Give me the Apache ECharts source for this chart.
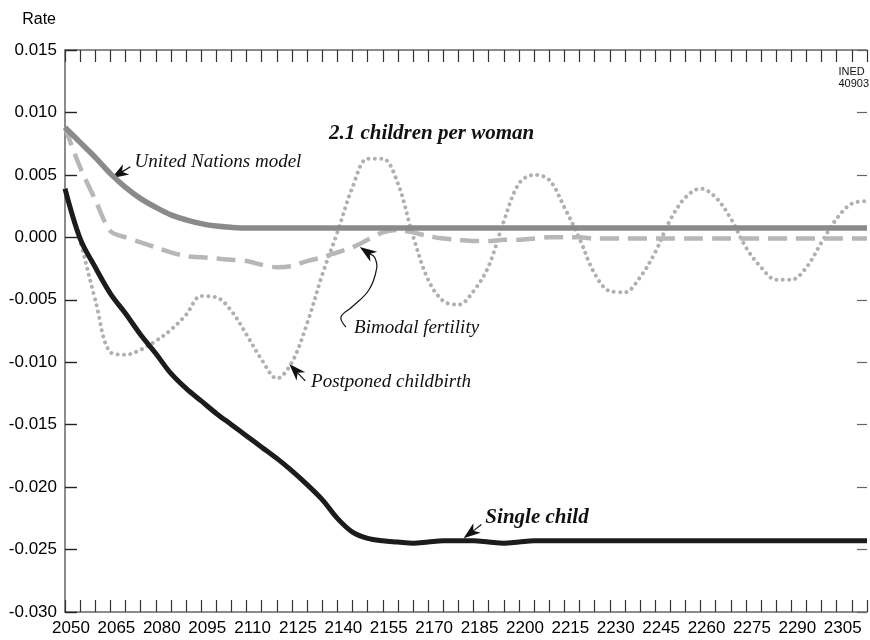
<!DOCTYPE html>
<html>
<head>
<meta charset="utf-8">
<script src="https://cdn.jsdelivr.net/npm/echarts@6/dist/echarts.min.js"></script>
<style>
  html, body { margin: 0; padding: 0; background: #fff; }
  #chart { width: 870px; height: 640px; }
</style>
</head>
<body>
<div id="chart"></div>
<script>
// Projection years (5-year steps)
const years = [
  2050, 2055, 2060, 2065, 2070, 2075, 2080, 2085, 2090, 2095,
  2100, 2105, 2110, 2115, 2120, 2125, 2130, 2135, 2140, 2145,
  2150, 2155, 2160, 2165, 2170, 2175, 2180, 2185, 2190, 2195,
  2200, 2205, 2210, 2215, 2220, 2225, 2230, 2235, 2240, 2245,
  2250, 2255, 2260, 2265, 2270, 2275, 2280, 2285, 2290, 2295,
  2300, 2305, 2310, 2315
];

// Growth rate, United Nations model
const unitedNations = [
  0.0088, 0.0076, 0.0064, 0.0051, 0.0040, 0.0031, 0.0024, 0.0018, 0.0014, 0.0011,
  0.0009, 0.0008, 0.00075, 0.00075, 0.00075, 0.00075, 0.00075, 0.00075, 0.00075, 0.00075,
  0.00075, 0.00075, 0.00075, 0.00075, 0.00075, 0.00075, 0.00075, 0.00075, 0.00075, 0.00075,
  0.00075, 0.00075, 0.00075, 0.00075, 0.00075, 0.00075, 0.00075, 0.00075, 0.00075, 0.00075,
  0.00075, 0.00075, 0.00075, 0.00075, 0.00075, 0.00075, 0.00075, 0.00075, 0.00075, 0.00075,
  0.00075, 0.00075, 0.00075, 0.00075
];

// Growth rate, bimodal fertility schedule
const bimodal = [
  0.0088, 0.0056, 0.0030, 0.0005, 0.0000, -0.0004, -0.0008, -0.0012, -0.0015, -0.0016,
  -0.0017, -0.0018, -0.0019, -0.0022, -0.0024, -0.0023, -0.0019, -0.0016, -0.0012, -0.0008,
  -0.0002, 0.0004, 0.0006, 0.0004, 0.0001, -0.0001, -0.0002, -0.0003, -0.0003, -0.0002,
  -0.0002, -0.0001, 0.0000, 0.0000, 0.0000, -0.0001, -0.0001, -0.0001, -0.0001, -0.0001,
  -0.0001, -0.0001, -0.0001, -0.0001, -0.0001, -0.0001, -0.0001, -0.0001, -0.0001, -0.0001,
  -0.0001, -0.0001, -0.0001, -0.0001
];

// Growth rate, postponed childbirth
const postponed = [
  0.0038, -0.0003, -0.0050, -0.0092, -0.0094, -0.0090, -0.0083, -0.0074, -0.0062, -0.0047,
  -0.0048, -0.0059, -0.0078, -0.0098, -0.0113, -0.0100, -0.0069, -0.0030, 0.0004, 0.0040,
  0.0063, 0.0063, 0.0043, 0.0001, -0.0034, -0.0051, -0.0054, -0.0043, -0.0023, 0.0013,
  0.0043, 0.0050, 0.0046, 0.0024, -0.0001, -0.0029, -0.0043, -0.0044, -0.0032, -0.0012,
  0.0014, 0.0032, 0.0039, 0.0032, 0.0015, -0.0008, -0.0024, -0.0034, -0.0034, -0.0024,
  -0.0004, 0.0015, 0.0027, 0.0029
];

// Growth rate, single child
const singleChild = [
  0.0039, -0.0001, -0.0024, -0.0045, -0.0061, -0.0078, -0.0093, -0.0109, -0.0121, -0.0131,
  -0.0141, -0.0150, -0.0159, -0.0168, -0.0177, -0.0187, -0.0198, -0.0210, -0.0225, -0.0236,
  -0.0241, -0.0243, -0.0244, -0.0245, -0.0244, -0.0243, -0.0243, -0.0243, -0.0244, -0.0245,
  -0.0244, -0.0243, -0.0243, -0.0243, -0.0243, -0.0243, -0.0243, -0.0243, -0.0243, -0.0243,
  -0.0243, -0.0243, -0.0243, -0.0243, -0.0243, -0.0243, -0.0243, -0.0243, -0.0243, -0.0243,
  -0.0243, -0.0243, -0.0243, -0.0243
];

const pairs = vals => years.map((y, i) => [y, vals[i]]);

const SANS = '"Liberation Sans", Arial, Helvetica, sans-serif';
const SERIF = '"Liberation Serif", "Times New Roman", serif';

const xCommon = {
  type: 'value', min: 2050, max: 2315, interval: 5,
  splitLine: { show: false },
  axisLine: { show: true, onZero: false, lineStyle: { color: '#666', width: 1.5 } },
  axisTick: { show: true, inside: true, length: 12, lineStyle: { color: '#333', width: 1.2 } }
};
const yCommon = {
  type: 'value', min: -0.030, max: 0.015, interval: 0.005,
  splitLine: { show: false }
};

const chart = echarts.init(document.getElementById('chart'), null, { renderer: 'canvas' });

chart.setOption({
  animation: false,
  backgroundColor: '#fff',
  grid: { left: 65, right: 0, top: 50, bottom: 28 },
  xAxis: [
    Object.assign({}, xCommon, {
      position: 'bottom',
      axisLabel: {
        color: '#000', fontFamily: SANS, fontSize: 17, margin: 8,
        padding: [0, 0, 0, 12],
        formatter: v => ((v - 2050) % 15 === 0 ? String(v) : '')
      }
    }),
    Object.assign({}, xCommon, {
      position: 'top',
      axisLabel: { show: false }
    })
  ],
  yAxis: [
    Object.assign({}, yCommon, {
      position: 'left',
      name: 'Rate',
      nameLocation: 'end',
      nameGap: 22,
      nameTextStyle: { color: '#000', fontFamily: SANS, fontSize: 16, align: 'right', padding: [0, 9, 0, 0] },
      axisLine: { show: true, onZero: false, lineStyle: { color: '#666', width: 1.5 } },
      axisTick: { show: true, inside: true, length: 12, lineStyle: { color: '#222', width: 1.4 } },
      axisLabel: { color: '#000', fontFamily: SANS, fontSize: 17, margin: 8, formatter: v => v.toFixed(3) }
    }),
    Object.assign({}, yCommon, {
      position: 'right',
      axisLine: { show: false, onZero: false },
      axisTick: { show: true, inside: true, length: 10, lineStyle: { color: '#666', width: 1.2 } },
      axisLabel: { show: false }
    })
  ],
  series: [
    {
      name: 'Postponed childbirth', type: 'line', data: pairs(postponed),
      smooth: 0.35, showSymbol: false,
      lineStyle: { color: '#b0b0b0', width: 4, type: [0.01, 6.3], cap: 'round' }
    },
    {
      name: 'Bimodal fertility', type: 'line', data: pairs(bimodal),
      smooth: 0.3, showSymbol: false,
      lineStyle: { color: '#b7b7b7', width: 4.5, type: [19, 9] }
    },
    {
      name: 'United Nations model', type: 'line', data: pairs(unitedNations),
      smooth: 0.35, showSymbol: false,
      lineStyle: { color: '#8a8a8a', width: 5.5 }
    },
    {
      name: 'Single child', type: 'line', data: pairs(singleChild),
      smooth: 0.35, showSymbol: false,
      lineStyle: { color: '#1c1c1c', width: 5 }
    }
  ]
});

// Annotations placed in data coordinates (year, rate)
const toPx = p => chart.convertToPixel({ xAxisIndex: 0, yAxisIndex: 0 }, p);

const labels = [
  { text: '2.1 children per woman', at: [2137.2, 0.00827], font: 'bold italic 21px ' + SERIF },
  { text: 'United Nations model', at: [2073.0, 0.0060], font: 'italic 19px ' + SERIF },
  { text: 'Bimodal fertility', at: [2145.5, -0.00722], font: 'italic 19px ' + SERIF },
  { text: 'Postponed childbirth', at: [2131.3, -0.01162], font: 'italic 19px ' + SERIF },
  { text: 'Single child', at: [2188.9, -0.02247], font: 'bold italic 21px ' + SERIF }
];

// Leader lines: list of points, the last one is the arrow tip
const leaders = [
  { path: [[2071.6, 0.00565], [2065.4, 0.00473]] },
  { path: [[2142.8, -0.00718], [2141.2, -0.00638], [2144.8, -0.00558], [2150.4, -0.00422], [2153.0, -0.00246], [2152.3, -0.00160], [2147.4, -0.00078]], smooth: true },
  { path: [[2129.4, -0.01150], [2124.1, -0.01014]] },
  { path: [[2187.6, -0.0230], [2181.7, -0.0241]] }
];

function arrowHead(tip, from, len, half) {
  const dx = tip[0] - from[0], dy = tip[1] - from[1];
  const d = Math.hypot(dx, dy) || 1;
  const ux = dx / d, uy = dy / d, nx = -uy, ny = ux;
  const bx = tip[0] - ux * len, by = tip[1] - uy * len;
  return [
    tip,
    [bx + nx * half, by + ny * half],
    [tip[0] - ux * len * 0.72, tip[1] - uy * len * 0.72],
    [bx - nx * half, by - ny * half]
  ];
}

const graphics = [];
labels.forEach(l => {
  const p = toPx(l.at);
  graphics.push({
    type: 'text', x: p[0], y: p[1], silent: true,
    style: { text: l.text, font: l.font, fill: '#111', align: 'left', verticalAlign: 'middle' }
  });
});
leaders.forEach(ld => {
  const pts = ld.path.map(toPx);
  const tip = pts[pts.length - 1];
  const prev = pts[pts.length - 2];
  const head = arrowHead(tip, prev, 17, 6);
  const shaft = pts.slice(0, -1).concat([head[2]]);
  graphics.push({
    type: 'polyline', silent: true,
    shape: { points: shaft, smooth: ld.smooth ? 0.4 : 0 },
    style: { stroke: '#111', lineWidth: 1.2, fill: null }
  });
  graphics.push({
    type: 'polygon', silent: true,
    shape: { points: head },
    style: { fill: '#111' }
  });
});

// Source code label, top right corner
graphics.push({
  type: 'text', right: 1, top: 66, silent: true,
  style: { text: 'INED\n40903', font: '11px ' + SANS, fill: '#111', align: 'right', lineHeight: 12 }
});

chart.setOption({ graphic: graphics });
</script>
</body>
</html>
